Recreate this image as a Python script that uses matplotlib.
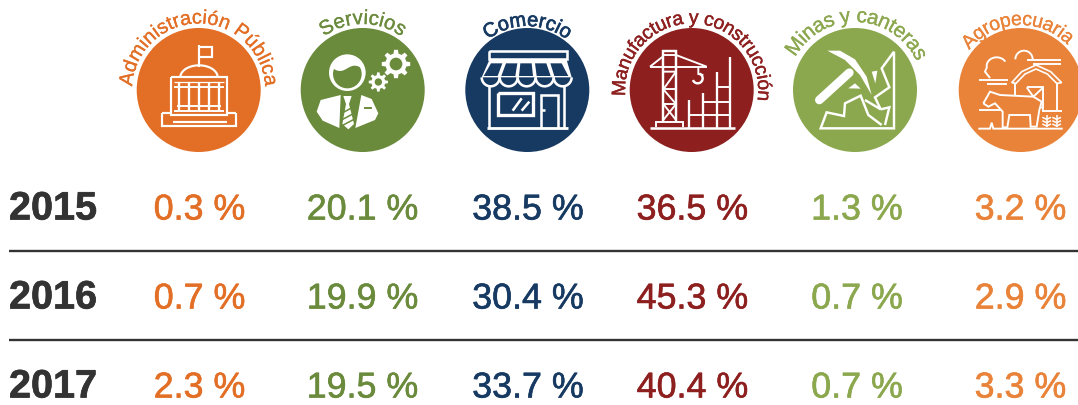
import numpy as np
import matplotlib
matplotlib.use("Agg")
import matplotlib.pyplot as plt
import matplotlib.patheffects as pe
from matplotlib.patches import Circle, Polygon
from matplotlib.font_manager import FontProperties
from matplotlib.textpath import TextToPath

# ---- data ----
sectors = ["Administración Pública", "Servicios", "Comercio", "Manufactura y construcción", "Minas y canteras", "Agropecuaria"]
years = ["2015", "2016", "2017"]
v2015 = [0.3, 20.1, 38.5, 36.5, 1.3, 3.2]
v2016 = [0.7, 19.9, 30.4, 45.3, 0.7, 2.9]
v2017 = [2.3, 19.5, 33.7, 40.4, 0.7, 3.3]
rows = [v2015, v2016, v2017]

# ---- style ----
colors = ["#E36F26", "#6A8A3C", "#173A63", "#8D1F1F", "#8CA84F", "#E9833A"]
centers = [198.7, 362.7, 527.3, 691.7, 855.0, 1020.7]
value_x = [199.5, 362.5, 528, 692.5, 857, 1020.5]
radius = 62
arc_r = [66.5, 66, 64, 66.5, 68, 65]
arc_span = [174, 72, 76, 194, 126, 98]
arc_shift = [0, 0, 0, 2, 2, -3]
arc_size = [14.3, 14.6, 14.4, 13.9, 15, 14]
arc_stroke = [0.2, 0.2, 0.5, 0.3, 0.2, 0.2]
dark = "#333333"
W, H = 1078, 405
baselines = [219.5, 308.5, 397.5]
rules_y = [251.3, 340.2]
FONT = "Liberation Sans"

fig = plt.figure(figsize=(W / 100, H / 100), dpi=100)
ax = fig.add_axes([0, 0, 1, 1])
ax.set_xlim(0, W)
ax.set_ylim(H, 0)
ax.axis("off")
ttp = TextToPath()


def arc_text(s, cx, cy, r, span, shift, size, color, stroke):
    prop = FontProperties(family=FONT, size=size)
    pref = [ttp.get_text_width_height_descent(s[:i], prop, False)[0] if i else 0 for i in range(len(s) + 1)]
    total = pref[-1]
    for i, ch in enumerate(s):
        mid = (pref[i] + pref[i + 1]) / 2
        th = np.radians(shift + span * (mid / total - 0.5))
        ax.text(cx + r * np.sin(th), cy - r * np.cos(th), ch, color=color, fontproperties=prop,
                rotation=-np.degrees(th), rotation_mode="anchor", ha="center", va="baseline",
                path_effects=[pe.withStroke(linewidth=stroke, foreground=color)])


def Z(ox):
    return lambda pts: [(ox + x / 3, y / 3) for x, y in pts]


def line(z, pts, lw=2.0, closed=False, zo=3):
    p = z(pts)
    if closed:
        p = p + [p[0]]
    ax.plot([a for a, _ in p], [b for _, b in p], color="white", lw=lw * 0.92,
            solid_capstyle="butt", solid_joinstyle="miter", zorder=zo)


def fill(z, pts, color="white", zo=3):
    ax.add_patch(Polygon(z(pts), closed=True, fc=color, ec="none", zorder=zo))


def gear(z, c, ro, ri, hole, teeth, bg):
    pts = []
    for k in range(teeth):
        a = 2 * np.pi * k / teeth
        d = 2 * np.pi / teeth
        for off, rr in [(-0.3, ri), (-0.17, ro), (0.17, ro), (0.3, ri)]:
            pts.append((c[0] + rr * np.cos(a + off * d), c[1] + rr * np.sin(a + off * d)))
    fill(z, pts)
    ax.add_patch(Circle(z([c])[0], hole / 3, fc=bg, ec="none", zorder=4))


def icon_admin():
    z = Z(100)
    line(z, [(297, 200), (297, 135)], 1.7)
    line(z, [(297, 140), (335, 140), (335, 170), (297, 170)], 1.7)
    th = np.radians(np.linspace(180, 360, 40))
    line(z, list(zip(297 + 56 * np.cos(th), 232 + 36 * np.sin(th))), 1.7)
    line(z, [(213, 232), (380, 232), (380, 345), (213, 345)], 1.7, closed=True)
    line(z, [(222, 246), (372, 246)], 1.0)
    line(z, [(222, 262), (372, 262)], 1.5)
    line(z, [(232, 318), (362, 318)], 1.5)
    line(z, [(222, 333), (372, 333)], 1.5)
    for x in [236, 266, 296, 326, 356]:
        line(z, [(x, 250), (x, 333)], 1.8)
    line(z, [(185, 340), (213, 340)], 1.7)
    line(z, [(380, 340), (408, 340)], 1.7)
    line(z, [(185, 340), (185, 378), (408, 378), (408, 340)], 1.7)
    line(z, [(220, 366), (380, 366)], 1.7)


def icon_serv():
    z = Z(100)
    bg = colors[1]
    ax.add_patch(Circle(z([(742, 218)])[0], 55 / 3, fc="white", ec="none", zorder=3))
    ax.add_patch(Circle(z([(742, 222)])[0], 43 / 3, fc=bg, ec="none", zorder=4))
    x = np.linspace(698, 786, 30)
    top = 205 + 8 * np.sin((x - 698) / 88 * 2 * np.pi)
    fill(z, list(zip(x, top)) + [(775, 180), (742, 168), (710, 180)], "white", 5)
    gear(z, (888, 192), 43, 32, 19, 8, bg)
    gear(z, (835, 246), 29, 21, 11, 8, bg)
    fill(z, [(650, 335), (662, 300), (722, 285), (718, 384), (668, 362)])
    fill(z, [(766, 384), (784, 285), (815, 297), (835, 340), (825, 360)])
    fill(z, [(730, 288), (755, 288), (747, 312), (762, 372), (745, 388), (727, 372), (738, 312)])
    for y in [330, 350, 368]:
        ax.plot(*zip(*z([(728, y + 8), (762, y - 10)])), color=bg, lw=1.1, zorder=4)
    ax.plot(*zip(*z([(795, 325), (812, 325)])), color=bg, lw=1.4, zorder=4)


def icon_com():
    z = Z(440)
    bg = colors[2]
    line(z, [(148, 152), (380, 152), (380, 178), (148, 178)], 2.0, closed=True)
    fill(z, [(148, 180), (380, 180), (395, 232), (125, 232)])
    for xt, xb in [(170, 152), (215, 205), (258, 258), (302, 311), (348, 364)]:
        w, wb = 17, 21
        fill(z, [(xt - w, 190), (xt + w, 190), (xb + wb, 228), (xb - wb, 228)], bg, 4)
    for i in range(5):
        xc = 152 + 54 * i
        th = np.radians(np.linspace(0, 180, 20))
        line(z, list(zip(xc + 27 * np.cos(th), 232 + 27 * np.sin(th))), 2.0)
    line(z, [(148, 258), (148, 385)], 2.0)
    line(z, [(372, 258), (372, 385)], 2.0)
    line(z, [(140, 385), (385, 385)], 2.2)
    line(z, [(175, 280), (280, 280), (280, 345), (175, 345)], 2.6, closed=True)
    line(z, [(218, 332), (245, 295)], 2.0)
    line(z, [(245, 332), (268, 305)], 2.0)
    line(z, [(303, 385), (303, 285), (355, 285), (355, 385)], 2.0)
    line(z, [(303, 330), (315, 330)], 2.0)


def icon_man():
    z = Z(440)
    line(z, [(668, 365), (668, 152), (708, 152), (708, 365)], 1.9)
    line(z, [(668, 166), (708, 166)], 1.5)
    line(z, [(630, 200), (800, 200)], 1.5)
    line(z, [(630, 200), (668, 170)], 1.5)
    line(z, [(708, 165), (800, 200)], 1.5)
    line(z, [(668, 215), (708, 215), (670, 268), (708, 312), (670, 360)], 1.5)
    line(z, [(670, 268), (708, 268)], 1.5)
    line(z, [(670, 312), (708, 312)], 1.5)
    line(z, [(670, 312), (708, 360)], 1.5)
    line(z, [(775, 200), (775, 222), (790, 225)], 1.5)
    th = np.radians(np.linspace(-70, 160, 20))
    line(z, list(zip(773 + 15 * np.cos(th), 235 + 15 * np.sin(th))), 1.9)
    line(z, [(648, 380), (648, 367), (728, 367), (728, 380)], 1.5)
    line(z, [(630, 385), (885, 385)], 2.0)
    for x, t in [(748, 300), (790, 280), (830, 215), (870, 172)]:
        line(z, [(x, t), (x, 385)], 1.8)
    line(z, [(748, 345), (870, 345)], 1.5)
    line(z, [(790, 305), (870, 305)], 1.5)
    line(z, [(830, 262), (870, 262)], 1.5)


def icon_min():
    z = Z(770)
    ax.plot(*zip(*z([(148, 300), (238, 218)])), color="white", lw=6.2, solid_capstyle="round", zorder=3)
    fill(z, [(172, 152), (210, 152), (255, 178), (290, 230), (305, 285), (270, 225), (225, 180)])
    fill(z, [(235, 265), (255, 250), (272, 266)])
    fill(z, [(305, 215), (322, 212), (316, 250)])
    line(z, [(372, 155), (372, 385), (152, 385), (170, 337), (222, 348), (225, 310), (272, 287), (295, 345), (335, 375)], 1.9)
    line(z, [(372, 155), (335, 205), (358, 262), (315, 292), (332, 328), (285, 300)], 1.9)
    line(z, [(332, 328), (358, 322), (345, 375)], 1.9)


def icon_agr():
    z = Z(770)
    bg = colors[5]
    line(z, [(627, 240), (715, 240)], 1.5)
    line(z, [(650, 252), (712, 252)], 1.5)
    th = np.radians(np.linspace(170, 330, 20))
    line(z, [(660, 234), (645, 215)] + list(zip(680 + 30 * np.cos(th), 198 + 26 * np.sin(th))), 1.5)
    th = np.radians(np.linspace(180, 360, 20))
    line(z, list(zip(762 + 26 * np.cos(th), 178 + 26 * np.sin(th))), 1.5)
    line(z, [(770, 180), (872, 180)], 1.5)
    line(z, [(790, 192), (872, 192)], 1.5)
    line(z, [(725, 248), (755, 215), (798, 195), (842, 215), (875, 248), (860, 250), (832, 222), (798, 207), (765, 222), (738, 250)], 1.3, closed=True)
    line(z, [(735, 250), (735, 285)], 1.5)
    line(z, [(860, 250), (860, 330)], 1.5)
    line(z, [(770, 262), (820, 262), (820, 330)], 1.5)
    line(z, [(770, 262), (815, 325)], 1.5)
    line(z, [(820, 262), (790, 290)], 1.5)
    line(z, [(628, 330), (695, 330)], 1.5)
    line(z, [(815, 332), (876, 332)], 1.5)
    cow = [(640, 310), (660, 275), (690, 285), (790, 290), (815, 305), (808, 330), (800, 380), (782, 380), (780, 345),
           (718, 345), (712, 382), (698, 382), (698, 335), (675, 310), (655, 320)]
    fill(z, cow, bg, 4)
    line(z, cow, 1.5, True, 5)
    line(z, [(625, 386), (660, 386), (665, 368), (670, 386), (878, 386)], 1.5, zo=5)
    for x in [830, 860]:
        line(z, [(x, 345), (x, 380)], 1.2)
        for y in [352, 362, 372]:
            line(z, [(x - 13, y), (x, y + 6), (x + 13, y)], 1.2)


icons = [icon_admin, icon_serv, icon_com, icon_man, icon_min, icon_agr]

for i, name in enumerate(sectors):
    cx = centers[i]
    ax.add_patch(Circle((cx, 90), radius, fc=colors[i], ec="none", zorder=2))
    icons[i]()
    arc_text(name, cx, 90, arc_r[i], arc_span[i], arc_shift[i], arc_size[i], colors[i], arc_stroke[i])

for r, (yr, vals) in enumerate(zip(years, rows)):
    ax.text(9, baselines[r], yr, color=dark, family=FONT, weight="bold", fontsize=28.5, ha="left", va="baseline",
            path_effects=[pe.withStroke(linewidth=0.5, foreground=dark)])
    for i, v in enumerate(vals):
        ax.text(value_x[i], baselines[r], f"{v:.1f} %", color=colors[i], family=FONT, fontsize=25.8,
                ha="center", va="baseline", path_effects=[pe.withStroke(linewidth=0.45, foreground=colors[i])])

for y in rules_y:
    ax.plot([9, W], [y, y], color=dark, lw=1.7, solid_capstyle="butt")

fig.savefig("out.png", dpi=100)
